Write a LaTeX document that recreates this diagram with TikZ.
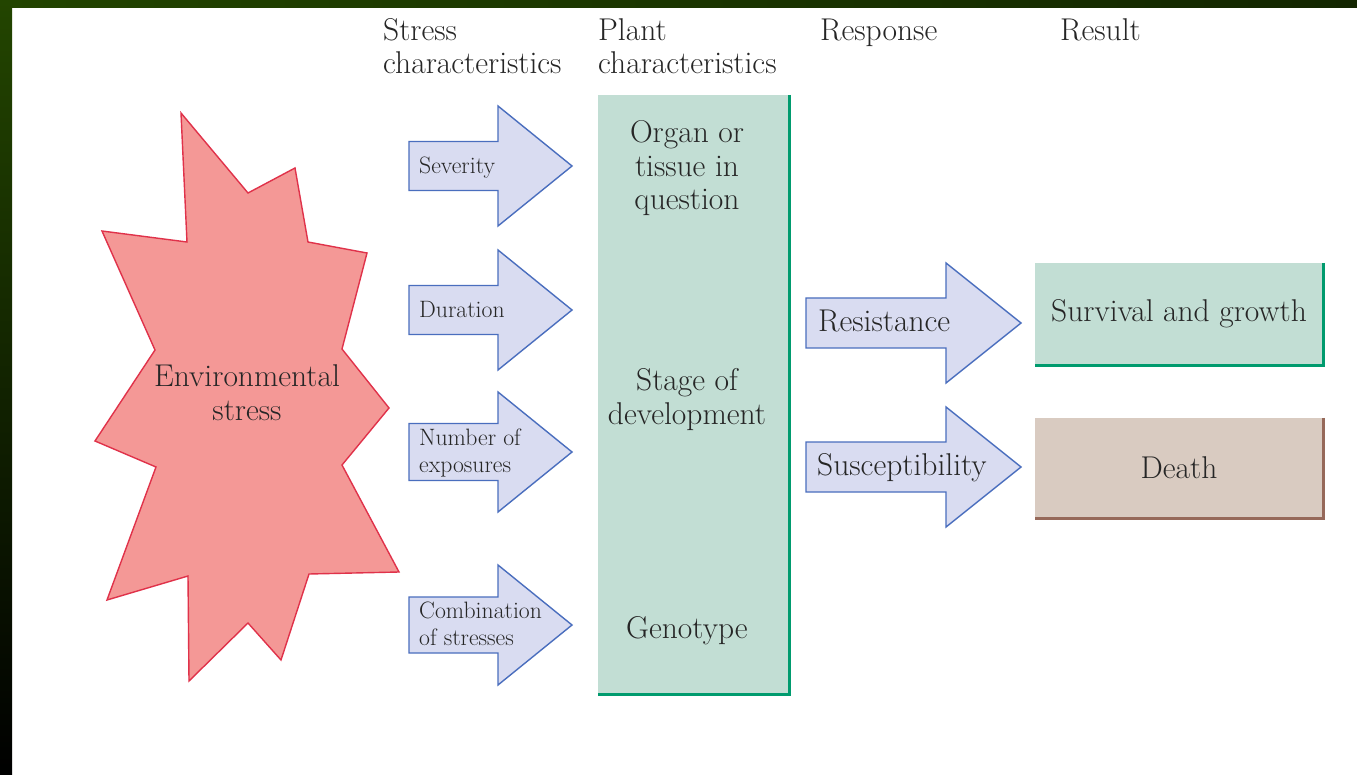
\documentclass[tikz,border=0pt]{standalone}
\usepackage{xcolor}
\usepackage{tikz}
\definecolor{framegreen}{HTML}{234500}
\definecolor{framedark}{HTML}{132600}
\definecolor{inkgray}{HTML}{262626}
\definecolor{starfill}{HTML}{F49896}
\definecolor{starline}{HTML}{E0324A}
\definecolor{arrowfill}{HTML}{D9DCF1}
\definecolor{arrowline}{HTML}{4A6EBE}
\definecolor{plantfill}{HTML}{C2DED4}
\definecolor{plantline}{HTML}{009B6E}
\definecolor{deathfill}{HTML}{D9CBC1}
\definecolor{deathline}{HTML}{96695A}
\newcommand{\bigtype}{\fontsize{31.5}{33.5}\selectfont}
\newcommand{\smalltype}{\fontsize{23.7}{27}\selectfont}
% block arrow: tail x, middle y, half shaft, head base x, tip x
\providecommand{\blockarrow}[5]{%
\filldraw[arrowshape] (#1,#2-#3) -- (#4,#2-#3) -- (#4,#2-60) -- (#5,#2) -- (#4,#2+60) -- (#4,#2+#3) -- (#1,#2+#3) -- cycle;}

\begin{document}
\begin{tikzpicture}[x=1pt,y=-1pt,
  headtext/.style={text=inkgray,font=\bigtype,inner sep=0pt,align=left,anchor=base west},
  boxtext/.style={text=inkgray,font=\bigtype,inner sep=0pt,align=center,anchor=base},
  cuetext/.style={text=inkgray,font=\smalltype,inner sep=0pt,align=left,anchor=base west},
  arrowshape/.style={fill=arrowfill,draw=arrowline,line width=1.4pt,line join=miter},
  plantbox/.style={fill=plantfill,text=inkgray,font=\bigtype,inner sep=0pt},
  deathbox/.style={fill=deathfill,text=inkgray,font=\bigtype,inner sep=0pt}]
\useasboundingbox (0,0) rectangle (1357,775);
\fill[white] (0,0) rectangle (1357,775);
% Drawing the frame
\shade[left color=framegreen,right color=framedark] (0,0) rectangle (1357,8);
\shade[top color=framegreen,bottom color=black] (0,0) rectangle (12,775);
% Column heads (base = last line)
\node[headtext] (stresshead) at (383,74) {Stress\\characteristics};
\node[headtext] (planthead) at (598,74) {Plant\\characteristics};
\node[headtext] (resphead) at (820,41) {Response};
\node[headtext] (resulthead) at (1060,41) {Result};
% Environmental stress star
\filldraw[fill=starfill,draw=starline,line width=1.4pt,line join=miter]
  (181,113) -- (248,193) -- (295,168) -- (308,242) -- (367,253) -- (342,349)
  -- (389,408) -- (342,465) -- (399,572) -- (309,574) -- (281,660) -- (248,623)
  -- (189,681) -- (188,576) -- (107,600) -- (156,467) -- (95,441) -- (155,350)
  -- (102,231) -- (187,242) -- cycle;
\node[boxtext] (envstress) at (247,420) {Environmental\\stress};
% Stress characteristics
\blockarrow{409}{166}{24.5}{498}{572}
\node[cuetext] (severity) at (419,174) {Severity};
\blockarrow{409}{310}{24.5}{498}{572}
\node[cuetext] (duration) at (419,318) {Duration};
\blockarrow{409}{452}{28.5}{498}{572}
\node[cuetext] (exposures) at (419,472) {Number of\\exposures};
\blockarrow{409}{625}{28}{498}{572}
\node[cuetext] (combination) at (419,645) {Combination\\of stresses};
% Plant characteristics
\node[plantbox,minimum width=191pt,minimum height=599pt] (plant) at (693.5,394.5) {};
\draw[plantline,line width=3pt] (plant.north east) -- (plant.south east) -- (plant.south west);
\node[boxtext] (organ) at (687,210) {Organ or\\tissue in\\question};
\node[boxtext] (stage) at (687,424) {Stage of\\development};
\node[boxtext] (genotype) at (687,638) {Genotype};
% Response
\blockarrow{806}{323}{25}{946}{1021}
\node[headtext] (resistance) at (818,332) {Resistance};
\blockarrow{806}{467}{25}{946}{1021}
\node[headtext] (susceptibility) at (817,475) {Susceptibility};
% Result
\node[plantbox,minimum width=288pt,minimum height=102pt] (growth) at (1179,314) {Survival and growth};
\draw[plantline,line width=3pt] (growth.north east) -- (growth.south east) -- (growth.south west);
\node[deathbox,minimum width=288pt,minimum height=100pt] (death) at (1179,468) {Death};
\draw[deathline,line width=3pt] (death.north east) -- (death.south east) -- (death.south west);
\end{tikzpicture}
\end{document}
